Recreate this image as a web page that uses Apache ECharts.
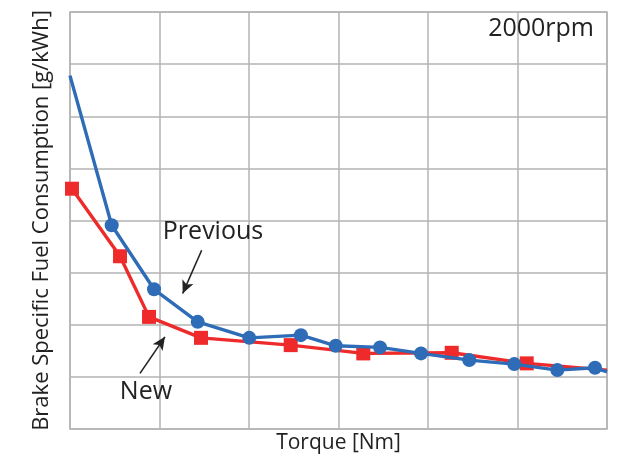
<!DOCTYPE html>
<html>
<head>
<meta charset="utf-8">
<script src="https://cdn.jsdelivr.net/npm/echarts@6/dist/echarts.min.js"></script>
<style>html,body{margin:0;padding:0;background:#fff;}#c{width:627px;height:454px;}</style>
</head>
<body>
<div id="c"></div>
<script>
// Torque in grid units (0..6), BSFC in grid units (0..8); the original has no tick labels
const previousTorque = [0, 0.466, 0.939, 1.427, 2.003, 2.58, 2.969, 3.464, 3.922, 4.461, 4.964, 5.445, 5.866, 6.0];
const previousBsfc   = [6.78, 3.91, 2.68, 2.056, 1.749, 1.80, 1.596, 1.565, 1.450, 1.322, 1.245, 1.130, 1.174, 1.098];
const newTorque = [0.022, 0.559, 0.883, 1.464, 2.466, 3.277, 4.265, 5.103, 6.0];
const newBsfc   = [4.61, 3.314, 2.151, 1.749, 1.609, 1.450, 1.462, 1.259, 1.13];
const seriesNames = ['New', 'Previous'];
const xTitle = 'Torque [Nm]';
const yTitle = 'Brake Specific Fuel Consumption [g/kWh]';
const speedLabel = '2000rpm';

const FONT = '"Open Sans", "Noto Sans", sans-serif';
const BLUE = '#2e6cb7';
const RED = '#ee2a2a';
const GRID = '#b3b3b3';

function pts(xs, ys, lastNoSymbol, firstNoSymbol) {
  return xs.map((x, i) => {
    const item = { value: [x, ys[i]] };
    if ((lastNoSymbol && i === xs.length - 1) || (firstNoSymbol && i === 0)) item.symbol = 'none';
    return item;
  });
}

const chart = echarts.init(document.getElementById('c'), null, { renderer: 'canvas' });
chart.setOption({
  animation: false,
  backgroundColor: '#fff',
  title: {
    text: speedLabel, right: 28, top: 11,
    textStyle: { fontFamily: FONT, fontSize: 25, fontWeight: 'normal', color: '#222' }
  },
  grid: { left: 70, top: 12, right: 20, bottom: 25, show: true, borderColor: GRID, borderWidth: 1.5, containLabel: false, outerBoundsMode: 'none' },
  xAxis: {
    type: 'value', min: 0, max: 6, interval: 1,
    name: xTitle, nameLocation: 'middle', nameGap: 4,
    nameTextStyle: { fontFamily: FONT, fontSize: 21, color: '#222', verticalAlign: 'top' },
    axisLine: { show: false }, axisTick: { show: false }, axisLabel: { show: false },
    splitLine: { show: true, lineStyle: { color: GRID, width: 1.5 } }
  },
  yAxis: {
    type: 'value', min: 0, max: 8, interval: 1,
    name: yTitle, nameLocation: 'middle', nameRotate: 90, nameGap: 17,
    nameTextStyle: { fontFamily: FONT, fontSize: 22, color: '#222' },
    axisLine: { show: false }, axisTick: { show: false }, axisLabel: { show: false },
    splitLine: { show: true, lineStyle: { color: GRID, width: 1.5 } }
  },
  series: [
    {
      name: seriesNames[0], type: 'line', data: pts(newTorque, newBsfc, true, false),
      symbol: 'rect', symbolSize: 14, showAllSymbol: true,
      lineStyle: { color: RED, width: 3.4 }, itemStyle: { color: RED },
      clip: false, z: 2,
      markLine: {
        silent: true, symbol: ['none', 'arrow'], symbolSize: [9, 13],
        lineStyle: { color: '#222', width: 1.6, type: 'solid' }, label: { show: false },
        data: [
          [{ coord: [0.782, 1.067] }, { coord: [1.061, 1.768] }]
        ]
      },
      markPoint: {
        silent: true, symbol: 'circle', symbolSize: 0,
        label: { show: true, position: 'inside', fontFamily: FONT, fontSize: 25, color: '#222', formatter: '{b}' },
        data: [{ name: seriesNames[0], coord: [0.849, 0.709] }]
      }
    },
    {
      name: seriesNames[1], type: 'line', data: pts(previousTorque, previousBsfc, true, true),
      symbol: 'circle', symbolSize: 14, showAllSymbol: true,
      lineStyle: { color: BLUE, width: 3.4 }, itemStyle: { color: BLUE },
      z: 3,
      markLine: {
        silent: true, symbol: ['none', 'arrow'], symbolSize: [9, 13],
        lineStyle: { color: '#222', width: 1.6, type: 'solid' }, label: { show: false },
        data: [
          [{ coord: [1.471, 3.429] }, { coord: [1.259, 2.600] }]
        ]
      },
      markPoint: {
        silent: true, symbol: 'circle', symbolSize: 0,
        label: { show: true, position: 'inside', fontFamily: FONT, fontSize: 25, color: '#222', formatter: '{b}' },
        data: [{ name: seriesNames[1], coord: [1.598, 3.774] }]
      }
    }
  ]
});
</script>
</body>
</html>
